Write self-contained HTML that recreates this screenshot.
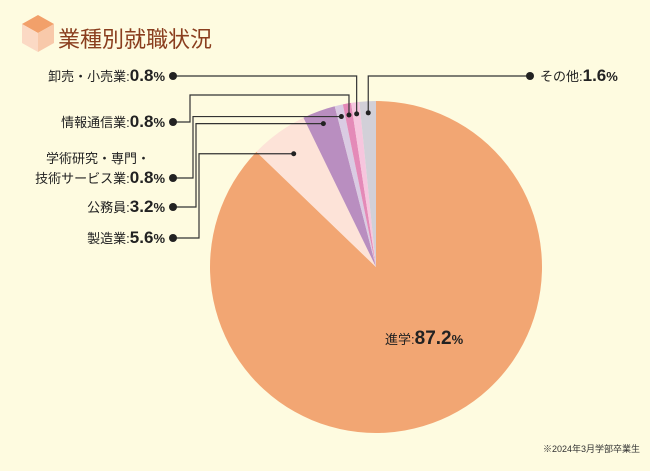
<!DOCTYPE html>
<html><head><meta charset="utf-8"><style>
body{margin:0;background:#fefbe0;}
svg{display:block;font-family:"Liberation Sans","Noto Sans CJK JP",sans-serif;}
</style></head><body>
<svg width="650" height="471" viewBox="0 0 650 471">
<rect width="650" height="471" fill="#fefbe0"/>
<g>
<polygon points="22,24 38,15 54,24 38,33" fill="#f2a06a"/>
<polygon points="22,24 38,33 38,52 22,43" fill="#fbd9c4"/>
<polygon points="38,33 54,24 54,43 38,52" fill="#f8c9aa"/>
</g>
<text x="58" y="47" font-size="22" fill="#8a3e1e">業種別就職状況</text>
<g id="pie"></g>
<g id="leaders"></g>
<text x="640" y="452" font-size="9" fill="#333" text-anchor="end">※2024年3月学部卒業生</text>
</svg>
<script>
const categories=["進学","製造業","公務員","学術研究・専門・技術サービス業","情報通信業","卸売・小売業","その他"];
const values=[87.2,5.6,3.2,0.8,0.8,0.8,1.6];
const colors=["#f2a673","#fde3d8","#b98ec0","#dacbe3","#e48ab8","#f6c6de","#d2d0d8"];
const cx=376,cy=267,r=166;
const NS="http://www.w3.org/2000/svg";
const pie=document.getElementById('pie');
const total=values.reduce((a,b)=>a+b,0);
function pt(f,rr){const a=f*2*Math.PI;return [cx+rr*Math.sin(a),cy-rr*Math.cos(a)];}
let acc=0;const mids=[];
values.forEach((v,i)=>{
 const f0=acc/total,f1=(acc+v)/total;acc+=v;mids.push((f0+f1)/2);
 const p0=pt(f0,r),p1=pt(f1,r);
 const p=document.createElementNS(NS,'path');
 p.setAttribute('d',`M${cx},${cy}L${p0[0]},${p0[1]}A${r},${r} 0 ${f1-f0>0.5?1:0} 1 ${p1[0]},${p1[1]}Z`);
 p.setAttribute('fill',colors[i]);
 
 
 pie.appendChild(p);
});
// main label
const t=document.createElementNS(NS,'text');
t.setAttribute('x',385);t.setAttribute('y',344);t.setAttribute('font-size',13);t.setAttribute('fill','#222');
t.innerHTML='進学:<tspan font-size="19" font-weight="bold">'+values[0].toFixed(1)+'</tspan><tspan font-size="13" font-weight="bold">%</tspan>';


document.getElementById('pie').appendChild(t);
// leaders: [index, label y, bend x, elbow y, dotx side]
const L=document.getElementById('leaders');
const leftLabels=[[5,76,null],[4,122,190],[3,178,193],[2,207,196],[1,238,199]];
function add(tag,attrs,name){const e=document.createElementNS(NS,tag);for(const k in attrs)e.setAttribute(k,attrs[k]);L.appendChild(e);return e;}
const elbowY={5:null,4:95,3:118,2:123,1:144};
leftLabels.forEach(([i,ly,bx])=>{
 const m=pt(mids[i],i<=2?(i==1?140:r*0.92):r*0.93);
 let d;
 if(bx===null){d=`M173,${ly}H${m[0]}V${m[1]}`;}
 else if(i==4){d=`M173,${ly}H${bx}V${elbowY[i]}H${m[0]}V${m[1]}`;}
 else{d=`M173,${ly}H${bx}V${m[1]}H${m[0]}`;}
 add('path',{d:d,fill:'none',stroke:'#333','stroke-width':1.2},'leader-'+i);
 add('circle',{cx:173,cy:ly,r:4,fill:'#222'},'label-dot-'+i);
 add('circle',{cx:m[0],cy:m[1],r:2.5,fill:'#222'},'slice-dot-'+i);
 const tx=add('text',{x:165,y:ly+5,'font-size':13,fill:'#222','text-anchor':'end'},'label-'+i);
 let name=categories[i];
 if(i==3){
   const t2=add('text',{x:150,y:ly-15,'font-size':13,fill:'#222','text-anchor':'end'},'label-3-line1');
   t2.textContent='学術研究・専門・';name='技術サービス業';
 }
 tx.innerHTML=name+':<tspan font-size="17" font-weight="bold">'+values[i].toFixed(1)+'</tspan><tspan font-weight="bold">%</tspan>';
});
// その他
{const i=6;const m=pt(mids[i],r*0.93);
 add('path',{d:`M530,76H${m[0]}V${m[1]}`,fill:'none',stroke:'#333','stroke-width':1.2},'leader-6');
 add('circle',{cx:530,cy:76,r:4,fill:'#222'},'label-dot-6');
 add('circle',{cx:m[0],cy:m[1],r:2.5,fill:'#222'},'slice-dot-6');
 const tx=add('text',{x:540,y:81,'font-size':13,fill:'#222'},'label-6');
 tx.innerHTML=categories[i]+':<tspan font-size="17" font-weight="bold">'+values[i].toFixed(1)+'</tspan><tspan font-weight="bold">%</tspan>';}
</script>
</body></html>
